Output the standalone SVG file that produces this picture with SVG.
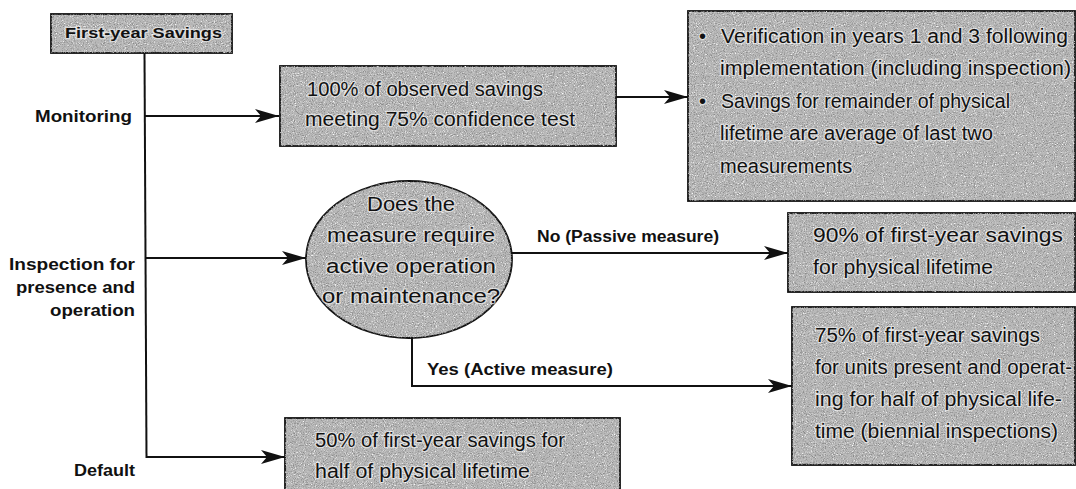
<svg xmlns="http://www.w3.org/2000/svg" width="1076" height="489" viewBox="0 0 1076 489">
<style>
.box{fill:#b8b8b8;stroke:#111;stroke-width:1.8}
.tex{fill:#000;stroke:none}
.bt{font-family:"Liberation Sans",Arial,sans-serif;font-size:20px;fill:#111;stroke:#fff;stroke-width:2.5;stroke-opacity:0.55;paint-order:stroke;stroke-linejoin:round}
.lb{font-family:"Liberation Sans",Arial,sans-serif;font-size:16px;font-weight:bold;fill:#111}
.ln{fill:none;stroke:#111;stroke-width:2}
</style>
<defs>
<filter id="speck" x="0" y="0" width="100%" height="100%">
<feTurbulence type="fractalNoise" baseFrequency="0.9" numOctaves="2" seed="5" result="t"/>
<feColorMatrix in="t" type="matrix" values="0 0 0 0 0.25  0 0 0 0 0.25  0 0 0 0 0.25  3.2 0 0 0 -1.55" result="dark"/>
<feColorMatrix in="t" type="matrix" values="0 0 0 0 1  0 0 0 0 1  0 0 0 0 1  0 -3.2 0 0 1.4" result="light"/>
<feMerge result="m"><feMergeNode in="light"/><feMergeNode in="dark"/></feMerge>
<feComposite in="m" in2="SourceAlpha" operator="in"/>
</filter>
<marker id="ah" markerUnits="userSpaceOnUse" markerWidth="26" markerHeight="18" refX="24" refY="9" orient="auto">
<path d="M24,9 L0,2 L6,9 L0,16 Z" fill="#111"/>
</marker>
</defs>

<g id="connectors">
<line class="ln" x1="144.5" y1="53" x2="146.5" y2="458"/>
<line class="ln" x1="145" y1="116" x2="279" y2="116" marker-end="url(#ah)"/>
<line class="ln" x1="616" y1="97" x2="688" y2="97" marker-end="url(#ah)"/>
<line class="ln" x1="146" y1="258" x2="306" y2="258" marker-end="url(#ah)"/>
<line class="ln" x1="511" y1="253" x2="788" y2="253" marker-end="url(#ah)"/>
<polyline class="ln" points="412,337 412,386 792,386" marker-end="url(#ah)"/>
<line class="ln" x1="146" y1="457" x2="285" y2="457" marker-end="url(#ah)"/>
</g>

<g id="first-year">
<rect class="box" x="51" y="14" width="181" height="39"/>
<rect class="tex" x="51" y="14" width="181" height="39" filter="url(#speck)"/>
<text class="lb" x="65" y="38" textLength="157" lengthAdjust="spacingAndGlyphs" style="font-size:15px;stroke:#fff;stroke-width:2.5;stroke-opacity:0.5;paint-order:stroke">First-year Savings</text>
</g>

<g id="label-monitoring"><text class="lb" x="132" y="122" text-anchor="end" textLength="97" lengthAdjust="spacingAndGlyphs">Monitoring</text></g>
<g id="label-inspection">
<text class="lb" x="135" y="270" text-anchor="end" textLength="126" lengthAdjust="spacingAndGlyphs">Inspection for</text>
<text class="lb" x="135" y="293" text-anchor="end" textLength="119" lengthAdjust="spacingAndGlyphs">presence and</text>
<text class="lb" x="135" y="316" text-anchor="end" textLength="85" lengthAdjust="spacingAndGlyphs">operation</text>
</g>
<g id="label-default"><text class="lb" x="135" y="476" text-anchor="end" textLength="61" lengthAdjust="spacingAndGlyphs">Default</text></g>
<g id="label-no"><text class="lb" x="537" y="242" textLength="182" lengthAdjust="spacingAndGlyphs">No (Passive measure)</text></g>
<g id="label-yes"><text class="lb" x="427" y="375" textLength="186" lengthAdjust="spacingAndGlyphs">Yes (Active measure)</text></g>

<g id="observed">
<rect class="box" x="280" y="66" width="336" height="80"/>
<rect class="tex" x="280" y="66" width="336" height="80" filter="url(#speck)"/>
<text class="bt" x="307" y="96" textLength="236" lengthAdjust="spacingAndGlyphs">100% of observed savings</text>
<text class="bt" x="305" y="126" textLength="270" lengthAdjust="spacingAndGlyphs">meeting 75% confidence test</text>
</g>

<g id="verification">
<rect class="box" x="688" y="11" width="387" height="190"/>
<rect class="tex" x="688" y="11" width="387" height="190" filter="url(#speck)"/>
<text class="bt" x="699" y="43">•</text>
<text class="bt" x="721" y="43" textLength="347" lengthAdjust="spacingAndGlyphs">Verification in years 1 and 3 following</text>
<text class="bt" x="720" y="75" textLength="351" lengthAdjust="spacingAndGlyphs">implementation (including inspection)</text>
<text class="bt" x="699" y="108">•</text>
<text class="bt" x="721" y="108" textLength="289" lengthAdjust="spacingAndGlyphs">Savings for remainder of physical</text>
<text class="bt" x="720" y="140" textLength="273" lengthAdjust="spacingAndGlyphs">lifetime are average of last two</text>
<text class="bt" x="720" y="173">measurements</text>
</g>

<g id="decision">
<ellipse class="box" cx="409" cy="259.5" rx="103" ry="78.5"/>
<ellipse class="tex" cx="409" cy="259.5" rx="103" ry="78.5" filter="url(#speck)"/>
<text class="bt" x="411" y="211" text-anchor="middle" textLength="88" lengthAdjust="spacingAndGlyphs">Does the</text>
<text class="bt" x="411" y="242" text-anchor="middle" textLength="168" lengthAdjust="spacingAndGlyphs">measure require</text>
<text class="bt" x="411" y="273" text-anchor="middle" textLength="170" lengthAdjust="spacingAndGlyphs">active operation</text>
<text class="bt" x="411" y="303" text-anchor="middle" textLength="178" lengthAdjust="spacingAndGlyphs">or maintenance?</text>
</g>

<g id="passive">
<rect class="box" x="788" y="213" width="287" height="79"/>
<rect class="tex" x="788" y="213" width="287" height="79" filter="url(#speck)"/>
<text class="bt" x="813" y="242" textLength="250" lengthAdjust="spacingAndGlyphs">90% of first-year savings</text>
<text class="bt" x="813" y="274" textLength="180" lengthAdjust="spacingAndGlyphs">for physical lifetime</text>
</g>

<g id="active">
<rect class="box" x="792" y="307" width="283" height="158"/>
<rect class="tex" x="792" y="307" width="283" height="158" filter="url(#speck)"/>
<text class="bt" x="815" y="342" textLength="225" lengthAdjust="spacingAndGlyphs">75% of first-year savings</text>
<text class="bt" x="815" y="374" textLength="257" lengthAdjust="spacingAndGlyphs">for units present and operat-</text>
<text class="bt" x="815" y="406" textLength="247" lengthAdjust="spacingAndGlyphs">ing for half of physical life-</text>
<text class="bt" x="815" y="438" textLength="243" lengthAdjust="spacingAndGlyphs">time (biennial inspections)</text>
</g>

<g id="default">
<rect class="box" x="285" y="418" width="335" height="80"/>
<rect class="tex" x="285" y="418" width="335" height="80" filter="url(#speck)"/>
<text class="bt" x="315" y="447" textLength="250" lengthAdjust="spacingAndGlyphs">50% of first-year savings for</text>
<text class="bt" x="315" y="478" textLength="215" lengthAdjust="spacingAndGlyphs">half of physical lifetime</text>
</g>
</svg>
